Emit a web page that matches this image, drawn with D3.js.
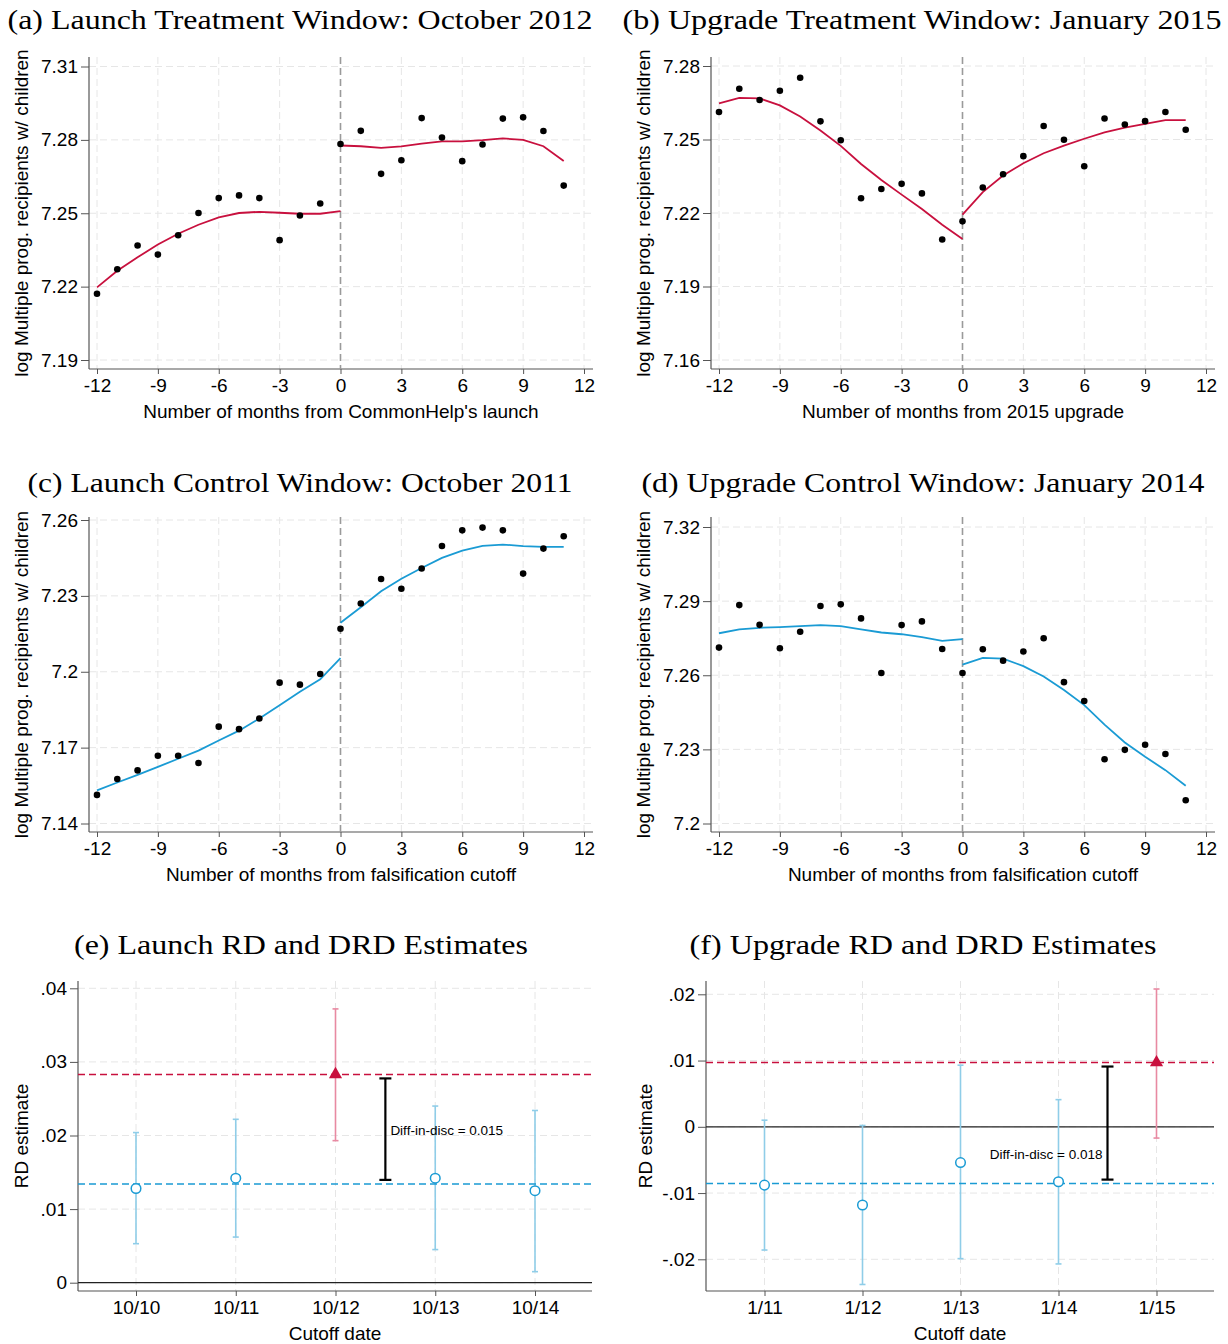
<!DOCTYPE html>
<html>
<head>
<meta charset="utf-8">
<script src="https://cdn.jsdelivr.net/npm/d3@7"></script>
<style>
  body { margin: 0; background: #fff; }
  text { font-family: "Liberation Sans", Arial, sans-serif; fill: #000; }
  .title { font-family: "Liberation Serif", "DejaVu Serif", serif; }
</style>
</head>
<body>
<svg id="fig" width="1228" height="1344"></svg>
<script>
// Data //

// Monthly bins around the cutoff:
var months     = [-12,-11,-10,-9,-8,-7,-6,-5,-4,-3,-2,-1,0,1,2,3,4,5,6,7,8,9,10,11];
var monthsPre  = [-12,-11,-10,-9,-8,-7,-6,-5,-4,-3,-2,-1,0];
var monthsPost = [0,1,2,3,4,5,6,7,8,9,10,11];
var monthTicks = [-12,-9,-6,-3,0,3,6,9,12];

// (a) Launch treatment window:
var ptsA     = [7.2171,7.2271,7.2368,7.2331,7.2410,7.2501,7.2562,7.2573,7.2562,7.2390,7.2491,7.2540,
                7.2783,7.2837,7.2661,7.2717,7.2889,7.2810,7.2713,7.2781,7.2887,7.2892,7.2836,7.2613];
var fitPreA  = [7.2197,7.2265,7.2320,7.2372,7.2416,7.2453,7.2483,7.2501,7.2506,7.2502,7.2498,7.2498,7.2509];
var fitPostA = [7.2777,7.2774,7.2767,7.2773,7.2785,7.2794,7.2794,7.2799,7.2806,7.2800,7.2774,7.2714];
var yTicksA  = [7.19,7.22,7.25,7.28,7.31];

// (b) Upgrade treatment window:
var ptsB     = [7.2612,7.2707,7.2661,7.2699,7.2752,7.2574,7.2497,7.2260,7.2298,7.2319,7.2280,7.2092,
                7.2166,7.2304,7.2358,7.2432,7.2555,7.2499,7.2391,7.2586,7.2561,7.2575,7.2612,7.2540];
var fitPreB  = [7.2647,7.2670,7.2668,7.2639,7.2594,7.2537,7.2474,7.2400,7.2335,7.2275,7.2216,7.2152,7.2094];
var fitPostB = [7.2193,7.2285,7.2353,7.2403,7.2444,7.2475,7.2503,7.2529,7.2548,7.2564,7.2579,7.2579];
var yTicksB  = [7.16,7.19,7.22,7.25,7.28];

// (c) Launch control window:
var ptsC     = [7.1513,7.1576,7.1610,7.1668,7.1668,7.1639,7.1783,7.1773,7.1815,7.1957,7.1949,7.1991,
                7.2170,7.2270,7.2367,7.2328,7.2408,7.2497,7.2559,7.2570,7.2559,7.2388,7.2487,7.2536];
var fitPreC  = [7.1531,7.1562,7.1592,7.1624,7.1656,7.1688,7.1728,7.1767,7.1815,7.1868,7.1921,7.1970,7.2054];
var fitPostC = [7.2194,7.2255,7.2318,7.2368,7.2410,7.2450,7.2479,7.2498,7.2503,7.2497,7.2494,7.2494];
var yTicksC  = [7.14,7.17,7.20,7.23,7.26];

// (d) Upgrade control window:
var ptsD     = [7.2712,7.2884,7.2804,7.2709,7.2776,7.2880,7.2887,7.2830,7.2609,7.2803,7.2818,7.2706,
                7.2609,7.2705,7.2659,7.2696,7.2750,7.2572,7.2496,7.2260,7.2298,7.2319,7.2281,7.2094];
var fitPreD  = [7.2770,7.2786,7.2792,7.2795,7.2799,7.2803,7.2799,7.2786,7.2773,7.2766,7.2754,7.2739,7.2746];
var fitPostD = [7.2643,7.2670,7.2667,7.2637,7.2595,7.2540,7.2479,7.2400,7.2328,7.2270,7.2216,7.2153];
var yTicksD  = [7.20,7.23,7.26,7.29,7.32];

// (e) Launch RD estimates by cutoff:
var cutoffsE = ["10/10","10/11","10/12","10/13","10/14"];
var estE     = [0.0128,0.0142,0.0283,0.0142,0.0125];
var loE      = [0.0053,0.0062,0.0193,0.0045,0.0015];
var hiE      = [0.0204,0.0222,0.0372,0.0240,0.0234];
var treatE   = 2;
var yTicksE  = [0,0.01,0.02,0.03,0.04];
var diffE    = "Diff-in-disc = 0.015";

// (f) Upgrade RD estimates by cutoff:
var cutoffsF = ["1/11","1/12","1/13","1/14","1/15"];
var estF     = [-0.0088,-0.0118,-0.0054,-0.0083,0.0097];
var loF      = [-0.0186,-0.0238,-0.0199,-0.0207,-0.0017];
var hiF      = [0.0010,0.0002,0.0093,0.0041,0.0208];
var treatF   = 4;
var yTicksF  = [-0.02,-0.01,0,0.01,0.02];
var diffF    = "Diff-in-disc = 0.018";

// Colours:
var red = "#c8103e", blue = "#1a9bd4",
    lightRed = "#e88aa2", lightBlue = "#8fcde8",
    grid = "#e6e6e6", axisCol = "#555";

var svg = d3.select("#fig");
svg.append("rect").attr("width", 1228).attr("height", 1344).attr("fill", "#fff");

// Panel titles:
function title( txt, cx, y, len ) {
  svg.append("text")
    .attr("class", "title")
    .attr("x", cx).attr("y", y)
    .attr("text-anchor", "middle")
    .attr("textLength", len)
    .attr("lengthAdjust", "spacingAndGlyphs")
    .style("font-size", "27px")
    .text(txt)
  ;
}
title("(a) Launch Treatment Window: October 2012", 300, 29, 585);
title("(b) Upgrade Treatment Window: January 2015", 922, 29, 599);
title("(c) Launch Control Window: October 2011", 300, 492, 545);
title("(d) Upgrade Control Window: January 2014", 923, 492, 563);
title("(e) Launch RD and DRD Estimates", 301, 954, 454);
title("(f) Upgrade RD and DRD Estimates", 923, 954, 467);

// Frame, grid and axes shared by every panel:
function frame( g, f, x, y, xTicks, yTicks, xFmt, yFmt, xTitle, yTitle, yTitleX ) {
  // Dashed grid:
  g.selectAll(".gy").data(yTicks).enter().append("line")
    .attr("x1", f.l).attr("x2", f.r)
    .attr("y1", d => y(d)).attr("y2", d => y(d))
    .attr("stroke", grid).attr("stroke-dasharray", "7,4")
  ;
  g.selectAll(".gx").data(xTicks).enter().append("line")
    .attr("y1", f.t).attr("y2", f.b)
    .attr("x1", d => x(d)).attr("x2", d => x(d))
    .attr("stroke", grid).attr("stroke-dasharray", "7,4")
  ;
  // Axes:
  var ya = g.append("g")
    .attr("transform", "translate(" + f.l + ",0)")
    .call(d3.axisLeft(y).tickValues(yTicks).tickSize(8).tickPadding(3).tickFormat(yFmt))
  ;
  var xa = g.append("g")
    .attr("transform", "translate(0," + f.b + ")")
    .call(d3.axisBottom(x).tickValues(xTicks).tickSize(5).tickPadding(5).tickFormat(xFmt))
  ;
  [ya, xa].forEach(function(a) {
    a.select(".domain").remove();
    a.selectAll("line").attr("stroke", axisCol);
    a.selectAll("text").style("font-size", "19px").attr("fill", "#000")
      .style("font-family", "'Liberation Sans', Arial, sans-serif");
  });
  g.append("line").attr("x1", f.l).attr("x2", f.l).attr("y1", f.t).attr("y2", f.b)
    .attr("stroke", axisCol).attr("stroke-width", 1.2);
  g.append("line").attr("x1", f.l).attr("x2", f.r).attr("y1", f.b).attr("y2", f.b)
    .attr("stroke", axisCol).attr("stroke-width", 1.2);

  // Axis titles:
  g.append("text")
    .attr("x", (f.l + f.r) / 2).attr("y", f.b + 49)
    .attr("text-anchor", "middle")
    .style("font-size", "19px")
    .text(xTitle)
  ;
  g.append("text")
    .attr("transform", "translate(" + yTitleX + "," + (f.t + f.b) / 2 + ") rotate(-90)")
    .attr("text-anchor", "middle")
    .style("font-size", "19px")
    .text(yTitle)
  ;
}

var yLab = "log Multiple prog. recipients w/ children";
// Stata-style labels: plain hyphen, no trailing zeros, no leading zero on estimates
var fmtMonth = d => String(d);
var fmtLevel = d => String(+d.toFixed(2));
var fmtEst = d => d === 0 ? "0" : d.toFixed(2).replace("0.", ".");

// Binned scatter with separate fits on each side of the cutoff:
function binscatter( f, yr, yTicks, pts, fitPre, fitPost, col, xTitle ) {
  var g = svg.append("g");
  var x = d3.scaleLinear().domain([-12, 12]).range([f.l + 8, f.r - 9]);
  var y = d3.scaleLinear().domain([yTicks[0], yTicks[yTicks.length - 1]]).range(yr);

  frame(g, f, x, y, monthTicks, yTicks, fmtMonth, fmtLevel, xTitle, yLab, f.l - 61);

  // Cutoff line:
  g.append("line")
    .attr("x1", x(0)).attr("x2", x(0)).attr("y1", f.t).attr("y2", f.b)
    .attr("stroke", "#9a9a9a").attr("stroke-width", 1.6).attr("stroke-dasharray", "7,4")
  ;
  // Fitted lines:
  var line = d3.line().x(d => x(d[0])).y(d => y(d[1]));
  [d3.zip(monthsPre, fitPre), d3.zip(monthsPost, fitPost)].forEach(function(seg) {
    g.append("path").datum(seg)
      .attr("d", line)
      .attr("fill", "none").attr("stroke", col).attr("stroke-width", 1.8)
    ;
  });
  // Bin means:
  g.selectAll(".pt").data(d3.zip(months, pts)).enter().append("circle")
    .attr("cx", d => x(d[0])).attr("cy", d => y(d[1]))
    .attr("r", 3.3).attr("fill", "#000")
  ;
}

binscatter({l: 89,  r: 593,  t: 57,  b: 369}, [360, 66.5], yTicksA, ptsA, fitPreA, fitPostA, red,
           "Number of months from CommonHelp's launch");
binscatter({l: 711, r: 1215, t: 57,  b: 369}, [360, 66],   yTicksB, ptsB, fitPreB, fitPostB, red,
           "Number of months from 2015 upgrade");
binscatter({l: 89,  r: 593,  t: 517, b: 832}, [823.5, 520], yTicksC, ptsC, fitPreC, fitPostC, blue,
           "Number of months from falsification cutoff");
binscatter({l: 711, r: 1215, t: 517, b: 832}, [823.5, 527], yTicksD, ptsD, fitPreD, fitPostD, blue,
           "Number of months from falsification cutoff");

// RD estimates at each cutoff, with the diff-in-disc bracket:
function estimates( f, xr, yr, yTicks, cutoffs, est, lo, hi, treat, label, labelLeft, yTitleX ) {
  var g = svg.append("g");
  var idx = d3.range(cutoffs.length);
  var x = d3.scaleLinear().domain([0, cutoffs.length - 1]).range(xr);
  var y = d3.scaleLinear().domain([yTicks[0], yTicks[yTicks.length - 1]]).range(yr);

  frame(g, f, x, y, idx, yTicks, i => cutoffs[i], fmtEst, "Cutoff date", "RD estimate", yTitleX);

  var ctrl = idx.filter(i => i !== treat);
  var ctrlMean = d3.mean(ctrl, i => est[i]);
  var treatEst = est[treat];

  // Zero line:
  g.append("line")
    .attr("x1", f.l).attr("x2", f.r).attr("y1", y(0)).attr("y2", y(0))
    .attr("stroke", "#222").attr("stroke-width", 1.3)
  ;
  // Confidence intervals:
  var ci = g.selectAll(".ci").data(idx).enter().append("g")
    .attr("stroke", i => i === treat ? lightRed : lightBlue)
    .attr("stroke-width", 1.6)
  ;
  ci.append("line")
    .attr("x1", i => x(i)).attr("x2", i => x(i))
    .attr("y1", i => y(lo[i])).attr("y2", i => y(hi[i]))
  ;
  ci.append("line")
    .attr("x1", i => x(i) - 3).attr("x2", i => x(i) + 3)
    .attr("y1", i => y(lo[i])).attr("y2", i => y(lo[i]))
  ;
  ci.append("line")
    .attr("x1", i => x(i) - 3).attr("x2", i => x(i) + 3)
    .attr("y1", i => y(hi[i])).attr("y2", i => y(hi[i]))
  ;
  // Mean lines:
  g.append("line")
    .attr("x1", f.l).attr("x2", f.r).attr("y1", y(treatEst)).attr("y2", y(treatEst))
    .attr("stroke", red).attr("stroke-width", 1.5).attr("stroke-dasharray", "7,4")
  ;
  g.append("line")
    .attr("x1", f.l).attr("x2", f.r).attr("y1", y(ctrlMean)).attr("y2", y(ctrlMean))
    .attr("stroke", blue).attr("stroke-width", 1.5).attr("stroke-dasharray", "7,4")
  ;
  // Point estimates:
  g.selectAll(".ctl").data(ctrl).enter().append("circle")
    .attr("cx", i => x(i)).attr("cy", i => y(est[i]))
    .attr("r", 4.8).attr("fill", "#fff").attr("stroke", blue).attr("stroke-width", 1.5)
  ;
  g.append("path")
    .attr("d", d3.symbol(d3.symbolTriangle).size(75))
    .attr("transform", "translate(" + x(treat) + "," + y(treatEst) + ")")
    .attr("fill", red)
  ;
  // Bracket between treatment and control means:
  var bx = x(labelLeft ? treat + 0.5 : treat - 0.5);
  var by1 = y(treatEst) + 4, by2 = y(ctrlMean) - 4;
  var br = g.append("g").attr("stroke", "#000").attr("stroke-width", 2.2);
  br.append("line").attr("x1", bx).attr("x2", bx).attr("y1", by1).attr("y2", by2);
  br.append("line").attr("x1", bx - 6).attr("x2", bx + 6).attr("y1", by1).attr("y2", by1);
  br.append("line").attr("x1", bx - 6).attr("x2", bx + 6).attr("y1", by2).attr("y2", by2);

  g.append("text")
    .attr("x", labelLeft ? bx + 5 : bx - 5)
    .attr("y", labelLeft ? (by1 + by2) / 2 + 1 : (by1 + by2) / 2 + 31)
    .attr("dy", "0.35em")
    .attr("text-anchor", labelLeft ? "start" : "end")
    .style("font-size", "13.5px")
    .text(label)
  ;
}

estimates({l: 78,  r: 592,  t: 981, b: 1291}, [136, 535],     [1282.7, 988.3], yTicksE,
          cutoffsE, estE, loE, hiE, treatE, diffE, true, 28);
estimates({l: 706, r: 1214, t: 981, b: 1291}, [764.5, 1156.5], [1259.3, 994.3], yTicksF,
          cutoffsF, estF, loF, hiF, treatF, diffF, false, 652);
</script>
</body>
</html>
